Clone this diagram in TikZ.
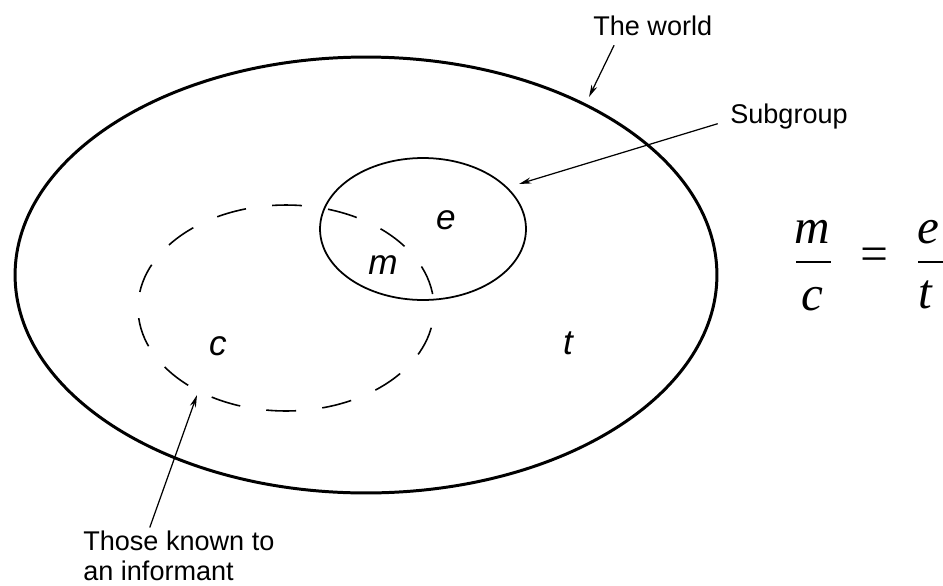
\documentclass[tikz,border=0pt]{standalone}
\usepackage{fontspec}
\setmainfont{Liberation Sans}
\newfontfamily\fracfont{Liberation Serif}
\usetikzlibrary{arrows.meta,shapes.geometric}

\begin{document}
\begin{tikzpicture}[x=0.02cm,y=-0.02cm,
  region/.style={draw,ellipse,inner sep=0pt},
  caption/.style={inner sep=0pt,font=\fontsize{15.4}{17}\selectfont},
  var/.style={inner sep=0pt,font=\fontsize{20}{24}\selectfont\itshape},
  fvar/.style={inner sep=0pt,font=\fontsize{28}{32}\selectfont\fracfont\itshape},
  pointer/.style={line width=0.7pt,-{Stealth[length=7pt,width=3.5pt]}},
  fracbar/.style={line width=1.1pt}]
  \useasboundingbox (0,0) rectangle (943,585);
  % The sets
  \node[region,line width=1.7pt,minimum width=14.04cm,minimum height=8.72cm] (world) at (366,275) {};
  \node[region,line width=1pt,minimum width=4.12cm,minimum height=2.84cm] (sub) at (423,229) {};
  \node[region,line width=0.9pt,dash pattern=on 17pt off 15pt,dash phase=24pt,
        minimum width=5.92cm,minimum height=4.12cm] (known) at (286,308) {};
  % Counts
  \node[var] (e) at (446,220) {e};
  \node[var] (m) at (383,265) {m};
  \node[var] (c) at (218,346) {c};
  \node[var] (t) at (568,343) {t};
  % Labels
  \node[caption,anchor=base west] (lblworld) at (593,35) {The world};
  \node[caption,anchor=base west] (lblsub) at (730,123) {Subgroup};
  \node[caption,anchor=north west,align=left] (lblinf) at (83,531) {Those known to\\an informant};
  \coordinate (worldtip) at (589,97);
  \coordinate (subtip) at (519,184);
  \coordinate (inftip) at (197,395);
  \draw[pointer] ([xshift=12pt,yshift=-5.5pt]lblworld.south west) -- (worldtip);
  \draw[pointer] ([xshift=-7pt,yshift=3pt]lblsub.south west) -- (subtip);
  \draw[pointer] ([xshift=38pt,yshift=2pt]lblinf.north west) -- (inftip);
  % Estimate
  \node[fvar] (fm) at (812,232) {m};
  \node[fvar] (fc) at (812,299) {c};
  \node[fvar] (feq) at (874,259) {=};
  \node[fvar] (fe) at (928,232) {e};
  \node[fvar] (ft) at (925,295) {t};
  \draw[fracbar] (796,262) -- (831,262);
  \draw[fracbar] (918,262) -- (943,262);
\end{tikzpicture}
\end{document}
